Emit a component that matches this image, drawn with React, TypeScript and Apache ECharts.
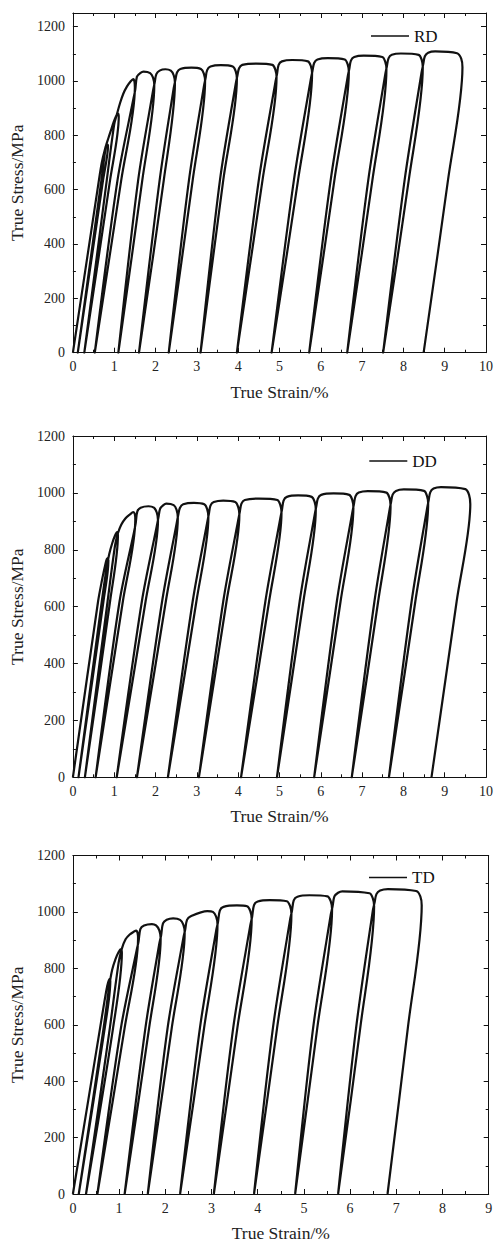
import React, { useEffect, useRef } from "react";
import * as echarts from "echarts";

// ---------- RD panel ----------
const rdMidStress = 635; // stress level at which the branch strains below were read
const rdResidual = [0.118, 0.276, 0.53, 1.10, 1.60, 2.32, 3.09, 3.97, 4.81, 5.72, 6.64, 7.51, 8.49];
const rdLoadAtMid = [0.63, 0.69, 0.82, 1.08, 1.58, 2.10, 2.81, 3.56, 4.50, 5.35, 6.24, 7.15, 8.03];
const rdUnloadAtMid = [0.73, 0.90, 1.17, 1.68, 2.20, 2.90, 3.64, 4.59, 5.45, 6.33, 7.25, 8.13, 9.08];
const rdHumps: number[][][] = [
  [[0.70, 700], [0.77, 745], [0.82, 768], [0.85, 762]],
  [[0.80, 760], [0.86, 790], [0.92, 818], [0.99, 850], [1.05, 872], [1.09, 880], [1.11, 868]],
  [[1.00, 840], [1.07, 880], [1.14, 918], [1.22, 953], [1.31, 980], [1.40, 999], [1.46, 1007], [1.49, 998], [1.50, 975]],
  [[1.47, 938], [1.51, 968], [1.55, 1016], [1.63, 1029], [1.71, 1034], [1.87, 1029], [1.94, 1012], [1.97, 984]],
  [[1.94, 964], [1.98, 994], [2.02, 1025], [2.10, 1038], [2.24, 1043], [2.37, 1038], [2.44, 1021], [2.47, 993]],
  [[2.44, 973], [2.48, 1003], [2.52, 1031], [2.60, 1044], [2.87, 1049], [3.10, 1044], [3.17, 1027], [3.20, 999]],
  [[3.17, 979], [3.21, 1009], [3.25, 1040], [3.33, 1053], [3.58, 1058], [3.87, 1053], [3.94, 1036], [3.97, 1008]],
  [[3.94, 988], [3.98, 1018], [4.02, 1046], [4.10, 1059], [4.44, 1064], [4.83, 1059], [4.90, 1042], [4.93, 1014]],
  [[4.90, 994], [4.94, 1024], [4.98, 1059], [5.06, 1072], [5.31, 1077], [5.69, 1072], [5.76, 1055], [5.79, 1027]],
  [[5.76, 1007], [5.80, 1037], [5.84, 1066], [5.92, 1079], [6.17, 1084], [6.58, 1079], [6.65, 1062], [6.68, 1034]],
  [[6.65, 1014], [6.69, 1044], [6.73, 1075], [6.81, 1088], [7.04, 1093], [7.49, 1088], [7.56, 1071], [7.59, 1043]],
  [[7.56, 1023], [7.60, 1053], [7.64, 1083], [7.72, 1096], [7.94, 1101], [8.37, 1096], [8.44, 1079], [8.47, 1051]],
  [[8.44, 1031], [8.48, 1061], [8.52, 1091], [8.60, 1104], [8.77, 1109], [9.30, 1102], [9.40, 1082], [9.43, 1050]],
];

// ---------- DD panel ----------
const ddMidStress = 619;
const ddResidual = [0.135, 0.29, 0.55, 1.06, 1.55, 2.30, 3.05, 4.07, 4.94, 5.84, 6.75, 7.65, 8.68];
const ddLoadAtMid = [0.61, 0.70, 0.84, 1.13, 1.67, 2.16, 2.90, 3.64, 4.66, 5.49, 6.39, 7.30, 8.20];
const ddUnloadAtMid = [0.74, 0.90, 1.21, 1.76, 2.25, 2.99, 3.72, 4.75, 5.58, 6.48, 7.39, 8.29, 9.29];
const ddHumps: number[][][] = [
  [[0.70, 690], [0.78, 745], [0.83, 770], [0.86, 762]],
  [[0.82, 740], [0.88, 785], [0.95, 822], [1.02, 850], [1.07, 862], [1.09, 850]],
  [[1.02, 815], [1.09, 858], [1.17, 888], [1.27, 910], [1.38, 924], [1.46, 932], [1.50, 925], [1.51, 905]],
  [[1.48, 863], [1.52, 893], [1.56, 935], [1.64, 948], [1.83, 953], [1.96, 948], [2.03, 931], [2.06, 903]],
  [[2.03, 883], [2.07, 913], [2.11, 944], [2.19, 957], [2.26, 962], [2.44, 957], [2.51, 940], [2.54, 912]],
  [[2.51, 892], [2.55, 922], [2.59, 947], [2.67, 960], [2.93, 965], [3.18, 960], [3.25, 943], [3.28, 915]],
  [[3.25, 895], [3.29, 925], [3.33, 955], [3.41, 968], [3.64, 973], [3.93, 968], [4.00, 951], [4.03, 923]],
  [[4.00, 903], [4.04, 933], [4.08, 962], [4.16, 975], [4.50, 980], [4.95, 975], [5.02, 958], [5.05, 930]],
  [[5.02, 910], [5.06, 940], [5.10, 973], [5.18, 986], [5.45, 991], [5.78, 986], [5.85, 969], [5.88, 941]],
  [[5.85, 921], [5.89, 951], [5.93, 980], [6.01, 993], [6.31, 998], [6.69, 993], [6.76, 976], [6.79, 948]],
  [[6.76, 928], [6.80, 958], [6.84, 988], [6.92, 1001], [7.14, 1006], [7.59, 1001], [7.66, 984], [7.69, 956]],
  [[7.66, 936], [7.70, 966], [7.74, 994], [7.82, 1007], [8.01, 1012], [8.50, 1007], [8.57, 990], [8.60, 962]],
  [[8.57, 942], [8.61, 972], [8.65, 1002], [8.73, 1015], [8.91, 1020], [9.50, 1013], [9.59, 993], [9.62, 960]],
];

// ---------- TD panel ----------
const tdMidStress = 589;
const tdResidual = [0.127, 0.284, 0.53, 1.12, 1.62, 2.32, 3.05, 3.92, 4.81, 5.74, 6.81];
const tdLoadAtMid = [0.589, 0.665, 0.80, 1.04, 1.57, 2.05, 2.75, 3.47, 4.33, 5.20, 6.13];
const tdUnloadAtMid = [0.69, 0.87, 1.12, 1.65, 2.14, 2.84, 3.56, 4.42, 5.29, 6.22, 7.25];
const tdHumps: number[][][] = [
  [[0.68, 680], [0.74, 735], [0.79, 762], [0.81, 755]],
  [[0.79, 740], [0.85, 795], [0.92, 832], [0.99, 858], [1.04, 868], [1.06, 855]],
  [[0.99, 820], [1.06, 870], [1.14, 903], [1.23, 920], [1.32, 930], [1.37, 934], [1.40, 925], [1.41, 905]],
  [[1.38, 864], [1.42, 894], [1.46, 939], [1.54, 952], [1.71, 957], [1.80, 952], [1.87, 935], [1.90, 907]],
  [[1.87, 887], [1.91, 917], [1.95, 959], [2.03, 972], [2.17, 977], [2.32, 972], [2.39, 955], [2.42, 927]],
  [[2.39, 907], [2.43, 937], [2.47, 972], [2.55, 985], [2.91, 1003], [3.03, 1000], [3.10, 983], [3.13, 955]],
  [[3.10, 933], [3.14, 963], [3.18, 1005], [3.26, 1018], [3.55, 1023], [3.77, 1020], [3.84, 1003], [3.87, 975]],
  [[3.84, 953], [3.88, 983], [3.92, 1024], [4.00, 1037], [4.26, 1042], [4.63, 1038], [4.70, 1021], [4.73, 993]],
  [[4.70, 972], [4.74, 1002], [4.78, 1041], [4.86, 1054], [5.12, 1059], [5.51, 1055], [5.58, 1038], [5.61, 1010]],
  [[5.58, 989], [5.62, 1019], [5.66, 1055], [5.74, 1068], [5.83, 1073], [6.42, 1066], [6.49, 1049], [6.52, 1021]],
  [[6.49, 1003], [6.53, 1033], [6.57, 1063], [6.65, 1076], [6.82, 1081], [7.43, 1074], [7.52, 1055], [7.55, 1023]],
];

const xTitle = "True Strain/%";
const yTitle = "True Stress/MPa";
const FONT = "'Liberation Serif', 'Times New Roman', serif";
const INK = "#111";

function buildPath(mid: number, load: number[], humps: number[][][], unload: number[], residual: number[]) {
  const pts: number[][] = [[0, 0]];
  for (let k = 0; k < humps.length; k++) {
    pts.push([load[k], mid]);
    for (const p of humps[k]) pts.push(p);
    pts.push([unload[k], mid]);
    pts.push([residual[k], 0]);
  }
  return pts;
}

const panels = [
  { name: "RD", grid: { left: 68.3, top: 13, width: 423.7, height: 339.7 }, xMax: 10, yMax: 1250,
    data: buildPath(rdMidStress, rdLoadAtMid, rdHumps, rdUnloadAtMid, rdResidual), legend: { left: 371, top: 27.5 } },
  { name: "DD", grid: { left: 69.3, top: 436, width: 423.4, height: 341.3 }, xMax: 10, yMax: 1200,
    data: buildPath(ddMidStress, ddLoadAtMid, ddHumps, ddUnloadAtMid, ddResidual), legend: { left: 369.3, top: 452.5 } },
  { name: "TD", grid: { left: 66.7, top: 855.5, width: 422, height: 340 }, xMax: 9, yMax: 1200,
    data: buildPath(tdMidStress, tdLoadAtMid, tdHumps, tdUnloadAtMid, tdResidual), legend: { left: 369, top: 869 } },
];

function axisCommon() {
  return {
    axisLine: { show: true, onZero: false, lineStyle: { color: INK, width: 1 } },
    axisTick: { show: true, inside: true, length: 5, lineStyle: { color: INK, width: 1 } },
    minorTick: { show: true, splitNumber: 2, length: 3, lineStyle: { color: INK, width: 1 } },
    splitLine: { show: false },
    minorSplitLine: { show: false },
  };
}

export default function App() {
  const ref = useRef<HTMLDivElement>(null);
  useEffect(() => {
    if (!ref.current) return;
    const chart = echarts.init(ref.current, undefined, { renderer: "svg" });
    const grid: any[] = [];
    const xAxis: any[] = [];
    const yAxis: any[] = [];
    const series: any[] = [];
    const legend: any[] = [];
    panels.forEach((p, i) => {
      grid.push({ ...p.grid, containLabel: false });
      const labelStyle = { color: "#222", fontFamily: FONT, fontSize: 14 };
      xAxis.push({
        type: "value", gridIndex: i, position: "bottom", min: 0, max: p.xMax, interval: 1,
        ...axisCommon(),
        axisLabel: { ...labelStyle, margin: 7 },
        name: xTitle, nameLocation: "middle", nameGap: 30,
        nameTextStyle: { color: "#222", fontFamily: FONT, fontSize: 17.5 },
      });
      xAxis.push({
        type: "value", gridIndex: i, position: "top", min: 0, max: p.xMax, interval: 1,
        ...axisCommon(), axisLabel: { show: false },
      });
      yAxis.push({
        type: "value", gridIndex: i, position: "left", min: 0, max: p.yMax, interval: 200,
        ...axisCommon(),
        axisLabel: { ...labelStyle, margin: 8, formatter: (v: number) => (v % 200 === 0 ? String(v) : "") },
        name: yTitle, nameLocation: "middle", nameGap: 28,
        nameTextStyle: { color: "#222", fontFamily: FONT, fontSize: 17.5 },
      });
      yAxis.push({
        type: "value", gridIndex: i, position: "right", min: 0, max: p.yMax, interval: 200,
        ...axisCommon(), axisLabel: { show: false },
      });
      series.push({
        name: p.name, type: "line", xAxisIndex: 2 * i, yAxisIndex: 2 * i,
        data: p.data, showSymbol: false, symbol: "none", smooth: 0.3,
        lineStyle: { color: INK, width: 2.2, join: "round" }, itemStyle: { color: INK },
      });
      legend.push({
        data: [p.name], left: p.legend.left, top: p.legend.top, padding: 0,
        icon: "rect", itemWidth: 38, itemHeight: 1.3, selectedMode: false,
        textStyle: { color: "#111", fontFamily: FONT, fontSize: 17 },
      });
    });
    chart.setOption({
      animation: false,
      backgroundColor: "#fff",
      grid, xAxis, yAxis, series, legend,
    });
    return () => chart.dispose();
  }, []);
  return <div ref={ref} style={{ position: "absolute", left: 0, top: 0, width: 496, height: 1243 }} />;
}
